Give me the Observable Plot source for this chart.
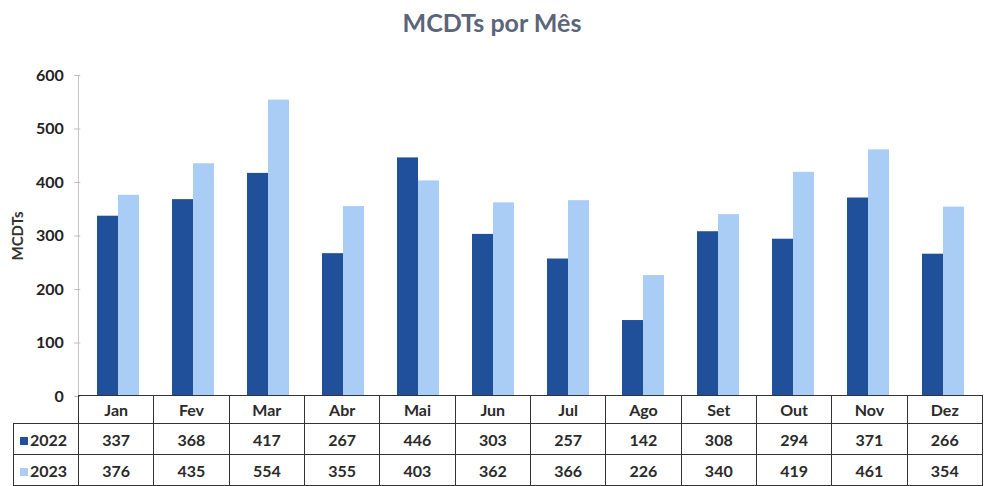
<!DOCTYPE html>
<html>
<head>
<meta charset="utf-8">
<script src="https://cdn.jsdelivr.net/npm/d3@7"></script>
<script src="https://cdn.jsdelivr.net/npm/@observablehq/plot@0.6"></script>
<style>
  html, body { margin: 0; padding: 0; background: #fff; }
  body { width: 984px; height: 486px; position: relative; overflow: hidden; font-family: Lato, "Open Sans", sans-serif; }
  #title { position: absolute; left: 0; top: 0; width: 984px; height: 50px; text-align: center;
           font-size: 25px; font-weight: bold; color: #5b6479; line-height: 44px; }
  #chart { position: absolute; left: 0; top: 50px; }
  #ylabel { position: absolute; left: -23px; top: 226px; width: 80px; height: 20px; line-height: 20px;
            text-align: center; transform: rotate(-90deg); transform-origin: center center;
            font-size: 15px; font-weight: bold; color: #333; }
  #tbl { position: absolute; left: 13px; top: 395px; border-collapse: collapse; table-layout: fixed;
         font-size: 16px; font-weight: bold; color: #2a2a2a; }
  #tbl td { border: 1.5px solid #333; text-align: center; padding: 0; }
  #tbl tr.h td { height: 27px; }
  #tbl tr.r td { height: 30px; }
  #tbl td.blank { border: none; }
  #tbl td.lab { text-align: left; padding-left: 6px; white-space: nowrap; }
  .sw { display: inline-block; width: 8px; height: 8px; margin-right: 2px; vertical-align: 1px; }
</style>
</head>
<body>
<div id="title">MCDTs por Mês</div>
<div id="chart"></div>
<div id="ylabel">MCDTs</div>
<table id="tbl"></table>
<script>
const months = ["Jan","Fev","Mar","Abr","Mai","Jun","Jul","Ago","Set","Out","Nov","Dez"];
const years = ["2022","2023"];
const v2022 = [337,368,417,267,446,303,257,142,308,294,371,266];
const v2023 = [376,435,554,355,403,362,366,226,340,419,461,354];
const yTicks = [0,100,200,300,400,500,600];
const colors = ["#21509a","#a9cdf4"];

const series = {"2022": v2022, "2023": v2023};
const data = [];
months.forEach((m, i) => years.forEach(y => data.push({month: m, year: y, value: series[y][i]})));

const W = 984, ML = 78, MR = 2;
const step = (W - ML - MR) / months.length;
const padOuter = 0.215;

const chart = Plot.plot({
  width: W, height: 364,
  marginTop: 25, marginBottom: 18, marginLeft: ML, marginRight: MR,
  style: {fontFamily: "Lato, 'Open Sans', sans-serif", background: "transparent", overflow: "visible"},
  fx: {domain: months, paddingInner: 0.43, paddingOuter: padOuter, axis: null, label: null},
  x: {domain: years, axis: null, padding: 0},
  y: {domain: [0, 600], axis: null},
  color: {domain: years, range: colors},
  marks: [
    Plot.barY(data, {fx: "month", x: "year", y: "value", fill: "year"}),
    Plot.axisY({ticks: yTicks, tickSize: 6, tickPadding: 11, stroke: "#bbb", fill: "#222",
                fontSize: 16, fontWeight: "bold", label: null, facet: "exclude", anchor: "left",
                dx: -(padOuter * step) + 0.5})
  ]
});
document.getElementById("chart").appendChild(chart);

// y axis line
const svg = d3.select(chart);
svg.append("line").attr("x1", ML + 0.5).attr("x2", ML + 0.5).attr("y1", 25).attr("y2", 346)
   .attr("stroke", "#c4c4c4").attr("stroke-width", 1);

// table
const tbl = d3.select("#tbl");
const cg = tbl.append("colgroup");
cg.append("col").style("width", (ML - 13) + "px");
months.forEach(() => cg.append("col").style("width", step + "px"));
const hr = tbl.append("tr").attr("class", "h");
hr.append("td").attr("class", "blank");
months.forEach(m => hr.append("td").text(m));
years.forEach((y, k) => {
  const r = tbl.append("tr").attr("class", "r");
  const lab = r.append("td").attr("class", "lab");
  lab.append("span").attr("class", "sw").style("background", colors[k]);
  lab.append("span").text(y);
  series[y].forEach(v => r.append("td").text(v));
});
</script>
</body>
</html>
